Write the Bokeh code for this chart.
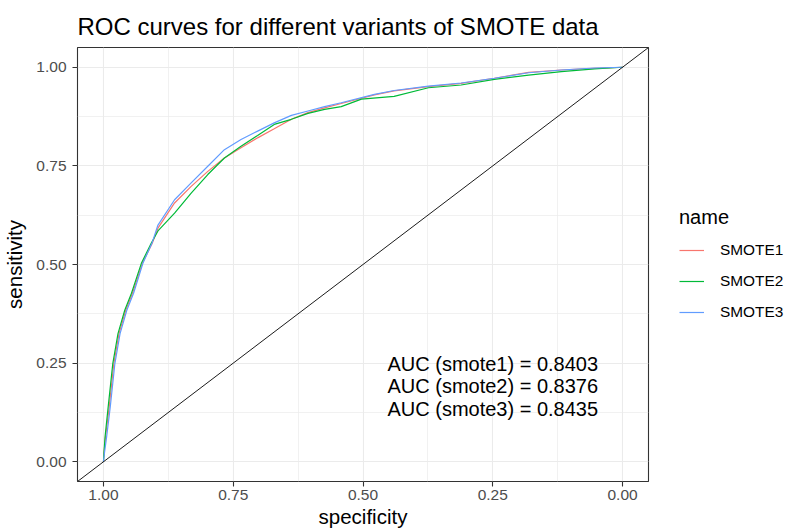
from bokeh.plotting import figure
from bokeh.models import Range1d, FixedTicker, Slope, Legend, LegendItem, ColumnDataSource
from bokeh.core.properties import value
from bokeh.embed import file_html
from bokeh.resources import INLINE

FONT = "Liberation Sans"

# ---- data ----
names = ["SMOTE1", "SMOTE2", "SMOTE3"]
auc_labels = ["smote1", "smote2", "smote3"]
auc_values = [0.8403, 0.8376, 0.8435]
colors = ["#F8766D", "#00BA38", "#619CFF"]

spec_smote1 = [1.000, 0.999, 0.996, 0.989, 0.980, 0.970, 0.957, 0.944, 0.925, 0.906, 0.895,
               0.863, 0.831, 0.799, 0.767, 0.735, 0.703, 0.671, 0.638, 0.606, 0.574, 0.542,
               0.478, 0.440, 0.374, 0.311, 0.247, 0.181, 0.118, 0.054, 0.000]
sens_smote1 = [0.000, 0.023, 0.062, 0.138, 0.249, 0.325, 0.384, 0.427, 0.503, 0.554, 0.592,
               0.656, 0.698, 0.736, 0.770, 0.796, 0.821, 0.844, 0.868, 0.885, 0.897, 0.908,
               0.930, 0.940, 0.951, 0.959, 0.972, 0.987, 0.993, 0.997, 1.000]

spec_smote2 = [1.000, 0.999, 0.997, 0.991, 0.982, 0.972, 0.959, 0.946, 0.927, 0.908, 0.895,
               0.863, 0.831, 0.799, 0.767, 0.735, 0.703, 0.671, 0.638, 0.606, 0.574, 0.542,
               0.503, 0.440, 0.374, 0.311, 0.247, 0.181, 0.118, 0.054, 0.000]
sens_smote2 = [0.000, 0.023, 0.062, 0.138, 0.249, 0.325, 0.384, 0.427, 0.503, 0.554, 0.585,
               0.630, 0.681, 0.728, 0.770, 0.800, 0.827, 0.855, 0.868, 0.883, 0.893, 0.900,
               0.919, 0.926, 0.948, 0.955, 0.969, 0.980, 0.989, 0.996, 1.000]

spec_smote3 = [1.000, 0.998, 0.994, 0.987, 0.978, 0.968, 0.955, 0.942, 0.924, 0.906, 0.895,
               0.863, 0.831, 0.799, 0.767, 0.735, 0.703, 0.671, 0.638, 0.606, 0.574, 0.542,
               0.478, 0.440, 0.374, 0.311, 0.247, 0.181, 0.118, 0.054, 0.000]
sens_smote3 = [0.000, 0.023, 0.062, 0.138, 0.249, 0.325, 0.384, 0.427, 0.503, 0.556, 0.600,
               0.664, 0.707, 0.749, 0.791, 0.817, 0.838, 0.859, 0.878, 0.889, 0.900, 0.910,
               0.931, 0.941, 0.952, 0.960, 0.972, 0.986, 0.993, 0.998, 1.000]

tick_values = [0.0, 0.25, 0.5, 0.75, 1.0]
tick_labels = ["0.00", "0.25", "0.50", "0.75", "1.00"]
minor_values = [0.125, 0.375, 0.625, 0.875]

curves = [(spec_smote1, sens_smote1), (spec_smote2, sens_smote2), (spec_smote3, sens_smote3)]

# ---- figure ----
p = figure(frame_width=571, frame_height=434, output_backend="svg", toolbar_location=None,
           x_range=Range1d(1.05, -0.05), y_range=Range1d(-0.05, 1.05),
           min_border_left=77, min_border_right=139, min_border_top=47, min_border_bottom=51,
           title="ROC curves for different variants of SMOTE data")
p.background_fill_color = "white"
p.border_fill_color = "white"
p.outline_line_color = "#333333"
p.outline_line_width = 1.1

p.title.text_font = FONT
p.title.text_font_size = "24px"
p.title.text_font_style = "normal"
p.title.text_color = "black"
p.title.align = "left"
p.title.standoff = 15

overrides = {t: l for t, l in zip(tick_values, tick_labels)}
for ax, lab in ((p.xaxis[0], "specificity"), (p.yaxis[0], "sensitivity")):
    ax.ticker = FixedTicker(ticks=tick_values, minor_ticks=minor_values)
    ax.major_label_overrides = overrides
    ax.axis_label = lab
    ax.axis_line_color = None
    ax.major_tick_line_color = "#333333"
    ax.major_tick_line_width = 1.1
    ax.major_tick_out = 5
    ax.major_tick_in = 0
    ax.minor_tick_line_color = None
    ax.major_label_text_font = FONT
    ax.major_label_text_font_size = "15.5px"
    ax.major_label_text_color = "#4D4D4D"
    ax.axis_label_text_font = FONT
    ax.axis_label_text_font_size = "20.5px"
    ax.axis_label_text_font_style = "normal"
    ax.axis_label_text_color = "black"
p.xaxis.major_label_standoff = 3
p.xaxis.axis_label_standoff = 2
p.yaxis.major_label_standoff = 6
p.yaxis.axis_label_standoff = 7

for g in (p.xgrid[0], p.ygrid[0]):
    g.ticker = FixedTicker(ticks=tick_values, minor_ticks=minor_values)
    g.grid_line_color = "#EBEBEB"
    g.grid_line_width = 1.1
    g.minor_grid_line_color = "#EBEBEB"
    g.minor_grid_line_width = 0.7

# diagonal reference line: sensitivity = 1 - specificity
p.add_layout(Slope(gradient=-1, y_intercept=1, line_color="black", line_width=0.9))

renderers = []
for (sx, sy), c in zip(curves, colors):
    r = p.line(x=sx, y=sy, line_color=c, line_width=1.2)
    renderers.append(r)

# AUC annotation
auc_text = ["AUC (%s) = %.4f" % (n, v) for n, v in zip(auc_labels, auc_values)]
line_step = 0.056
ys = [0.191 + (1 - i) * line_step for i in range(len(auc_text))]
src = ColumnDataSource(dict(x=[0.25] * len(auc_text), y=ys, t=auc_text))
p.text(x="x", y="y", text="t", source=src, text_align="center", text_baseline="middle",
       text_font=value(FONT), text_font_size="20px", text_color="black")

legend = Legend(items=[LegendItem(label=n, renderers=[r]) for n, r in zip(names, renderers)],
                title="name", location="center_left")
legend.title_text_font = FONT
legend.title_text_font_size = "20px"
legend.title_text_font_style = "normal"
legend.title_text_color = "black"
legend.title_standoff = 11
legend.label_text_font = FONT
legend.label_text_font_size = "15.4px"
legend.label_text_color = "black"
legend.glyph_width = 25
legend.glyph_height = 20
legend.label_height = 20
legend.label_standoff = 16
legend.spacing = 11
legend.padding = 0
legend.margin = 31
legend.background_fill_alpha = 0
legend.border_line_color = None
p.add_layout(legend, "right")

open("out.html", "w").write(file_html(p, INLINE))
